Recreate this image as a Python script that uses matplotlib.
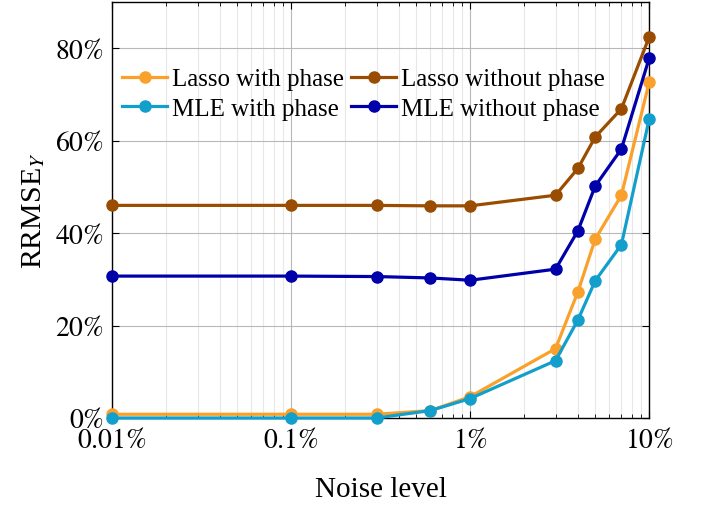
import matplotlib
matplotlib.use("Agg")
import matplotlib.pyplot as plt
from matplotlib.ticker import NullFormatter, LogLocator

noise = [0.01, 0.1, 0.3, 0.6, 1, 3, 4, 5, 7, 10]
lasso_with = [0.8, 0.8, 0.8, 1.6, 4.6, 15.0, 27.3, 38.7, 48.2, 72.6]
lasso_without = [46.0, 46.0, 46.0, 45.9, 45.9, 48.2, 54.0, 60.8, 66.9, 82.4]
mle_with = [0.0, 0.0, 0.0, 1.6, 4.2, 12.4, 21.2, 29.7, 37.5, 64.6]
mle_without = [30.7, 30.7, 30.6, 30.3, 29.8, 32.2, 40.5, 50.2, 58.2, 77.8]

xticks = [0.01, 0.1, 1, 10]
xticklabels = [r"$0.01\%$", r"$0.1\%$", r"$1\%$", r"$10\%$"]
yticks = [0, 20, 40, 60, 80]
yticklabels = [r"$0\%$", r"$20\%$", r"$40\%$", r"$60\%$", r"$80\%$"]

plt.rcParams['font.family'] = ['Liberation Serif', 'DejaVu Serif']
plt.rcParams['mathtext.fontset'] = 'stix'

fig = plt.figure(figsize=(7.01, 5.06), dpi=100)
ax = fig.add_axes([0.160, 0.172, 0.766, 0.822])

series = [
    ("Lasso with phase", lasso_with, "#F9A12A"),
    ("Lasso without phase", lasso_without, "#9A4D00"),
    ("MLE with phase", mle_with, "#139FCB"),
    ("MLE without phase", mle_without, "#0000AA"),
]
for label, vals, col in series:
    ax.plot(noise, vals, color=col, lw=2.3, marker='o', ms=8, label=label,
            zorder=3, clip_on=False)

ax.set_xscale('log')
ax.set_xlim(0.01, 10)
ax.set_ylim(0, 90)
ax.set_xticks(xticks)
ax.set_xticklabels(xticklabels)
ax.xaxis.set_minor_locator(LogLocator(base=10, subs=range(2, 10)))
ax.xaxis.set_minor_formatter(NullFormatter())
ax.set_yticks(yticks)
ax.set_yticklabels(yticklabels)

ax.grid(True, which='major', axis='both', color='#b8b8b8', lw=0.8)
ax.grid(True, which='minor', axis='x', color='#e8e8e8', lw=0.8)
ax.set_axisbelow(True)

ax.tick_params(which='both', direction='in', top=True, right=True, labelsize=20)
ax.tick_params(axis='x', pad=7)
ax.tick_params(axis='y', pad=6)
ax.tick_params(which='major', length=5)
ax.tick_params(which='minor', length=3)
for s in ax.spines.values():
    s.set_linewidth(1.0)

ax.set_xlabel("Noise level", fontsize=21, labelpad=17)
ax.set_ylabel("RRMSE$_Y$", fontsize=21.5, labelpad=6)

handles, labels = ax.get_legend_handles_labels()
order = [0, 2, 1, 3]
leg = ax.legend([handles[i] for i in order], [labels[i] for i in order], ncol=2,
                loc='upper left', bbox_to_anchor=(0.0186, 0.842), frameon=False,
                fontsize=18, handlelength=1.8, columnspacing=0.28, handletextpad=0.2,
                labelspacing=0.28, markerscale=1.0, borderpad=0, borderaxespad=0)

fig.savefig("out.png", dpi=100)
